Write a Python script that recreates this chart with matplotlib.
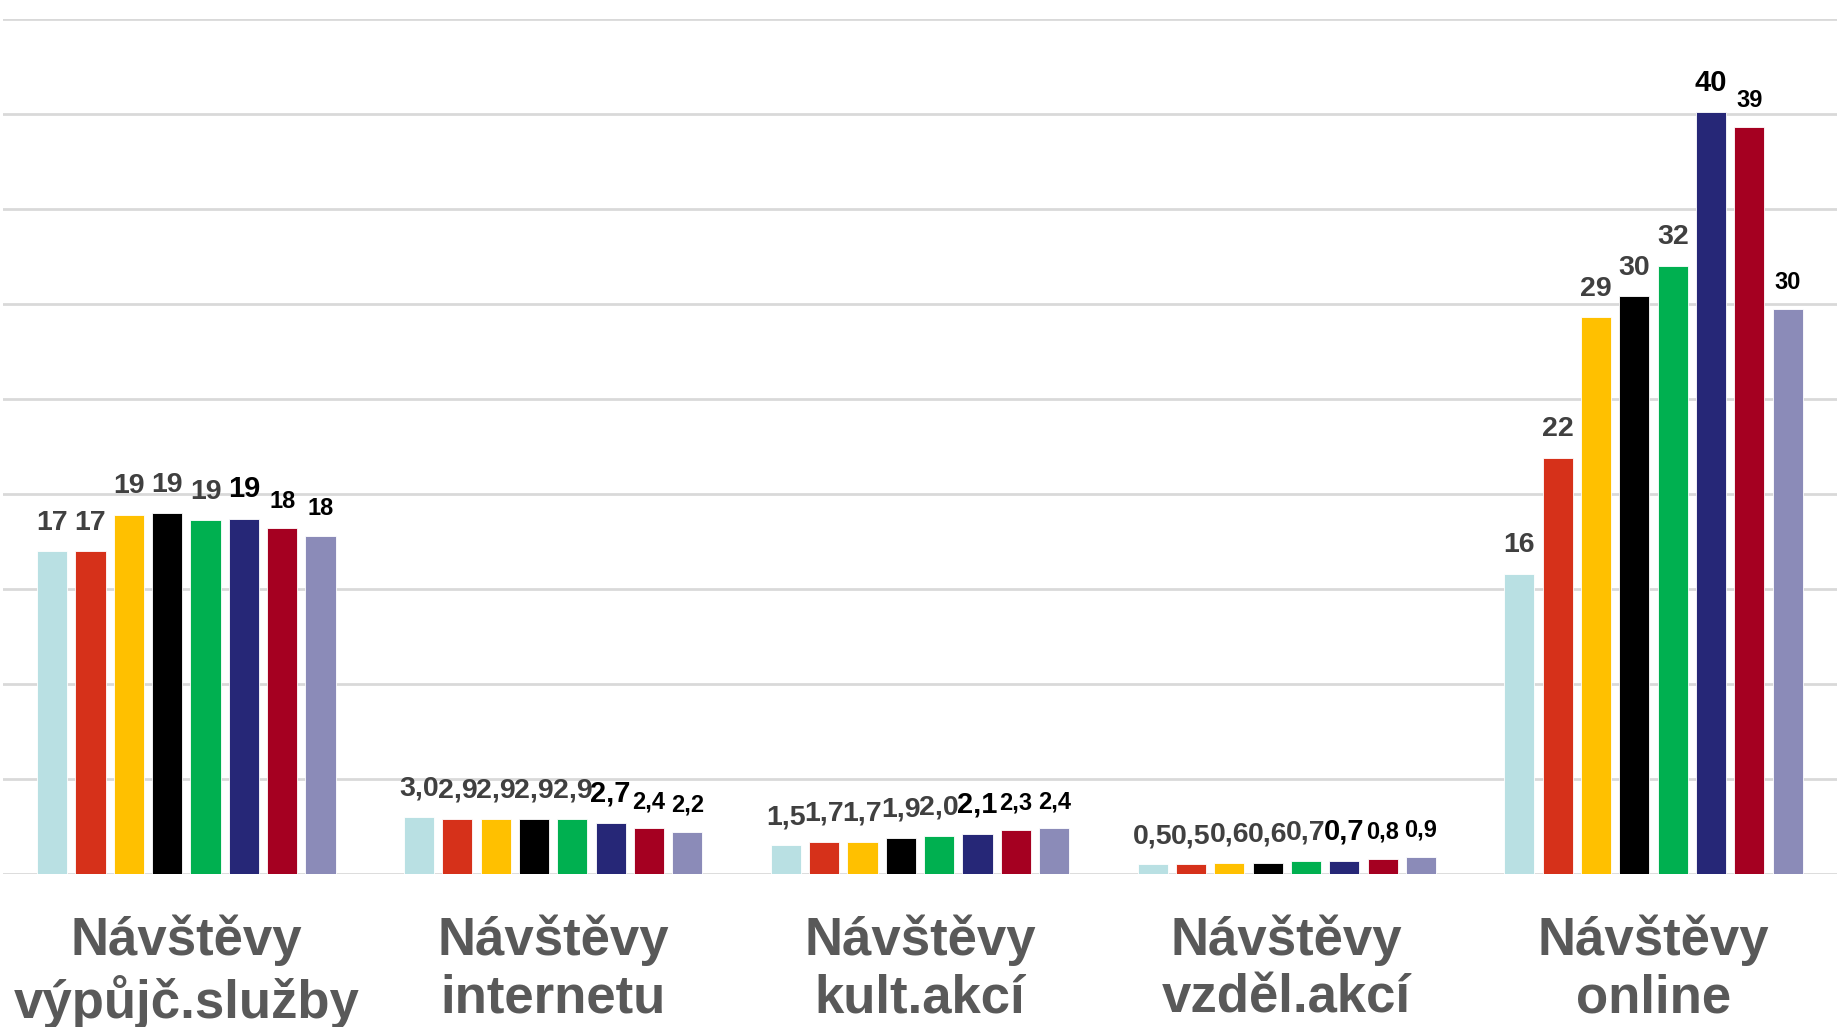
import matplotlib
matplotlib.use("Agg")
import matplotlib.pyplot as plt
import numpy as np

categories = ["Návštěvy\nvýpůjč.služby", "Návštěvy\ninternetu", "Návštěvy\nkult.akcí",
              "Návštěvy\nvzděl.akcí", "Návštěvy\nonline"]

s0 = [17.0, 3.0, 1.5, 0.5, 15.8]
s1 = [17.0, 2.9, 1.7, 0.5, 21.9]
s2 = [18.9, 2.9, 1.7, 0.6, 29.3]
s3 = [19.0, 2.9, 1.9, 0.6, 30.4]
s4 = [18.6, 2.9, 2.0, 0.7, 32.0]
s5 = [18.7, 2.7, 2.1, 0.7, 40.1]
s6 = [18.2, 2.4, 2.3, 0.8, 39.3]
s7 = [17.8, 2.2, 2.4, 0.9, 29.7]
series = [s0, s1, s2, s3, s4, s5, s6, s7]

colors = ["#b9e0e3", "#d6311a", "#ffc000", "#000000", "#00b050", "#262777", "#a50021", "#8b8bb8"]
decimal_group = [False, True, True, True, False]

plt.rcParams['font.family'] = ['Liberation Sans', 'DejaVu Sans']

fig = plt.figure(figsize=(18.37, 10.27), dpi=100)
ax = fig.add_axes([0.0016, 0.149, 0.9984, 0.8328])

ncat = len(categories)
x = np.arange(ncat)
slot = 0.1045
bw = 0.082
nser = len(series)

for i, vals in enumerate(series):
    pos = x + (i - (nser - 1) / 2) * slot
    ax.bar(pos, vals, width=bw, color=colors[i], zorder=3, edgecolor='white', linewidth=0.6)
    for j, (p, v) in enumerate(zip(pos, vals)):
        if decimal_group[j]:
            lab = f"{v:.1f}".replace('.', ',')
        else:
            lab = f"{v:.0f}"
        if i <= 4:
            kw = dict(color='#404040', fontsize=20.5, fontweight='bold')
        elif i == 5:
            kw = dict(color='#000000', fontsize=21, fontweight='bold')
        else:
            kw = dict(color='#000000', fontsize=17, fontweight='bold',
                      family=['Liberation Sans Narrow', 'Liberation Sans'])
        ax.annotate(lab, (p, v), xytext=(0, 11), textcoords='offset points',
                    ha='center', va='bottom', zorder=4, **kw)

ax.set_ylim(0, 45)
ax.set_xlim(-0.5, ncat - 0.5)
ax.set_yticks(np.arange(0, 46, 5))
ax.yaxis.grid(True, color='#d9d9d9', linewidth=2, zorder=0)
ax.tick_params(axis='y', left=False, labelleft=False)
ax.tick_params(axis='x', bottom=False, pad=26)
ax.set_xticks(x)
ax.set_xticklabels(categories, fontsize=38, fontweight='bold', color='#595959', linespacing=1.19)
for sp in ax.spines.values():
    sp.set_visible(False)

fig.savefig("out.png", dpi=100)
